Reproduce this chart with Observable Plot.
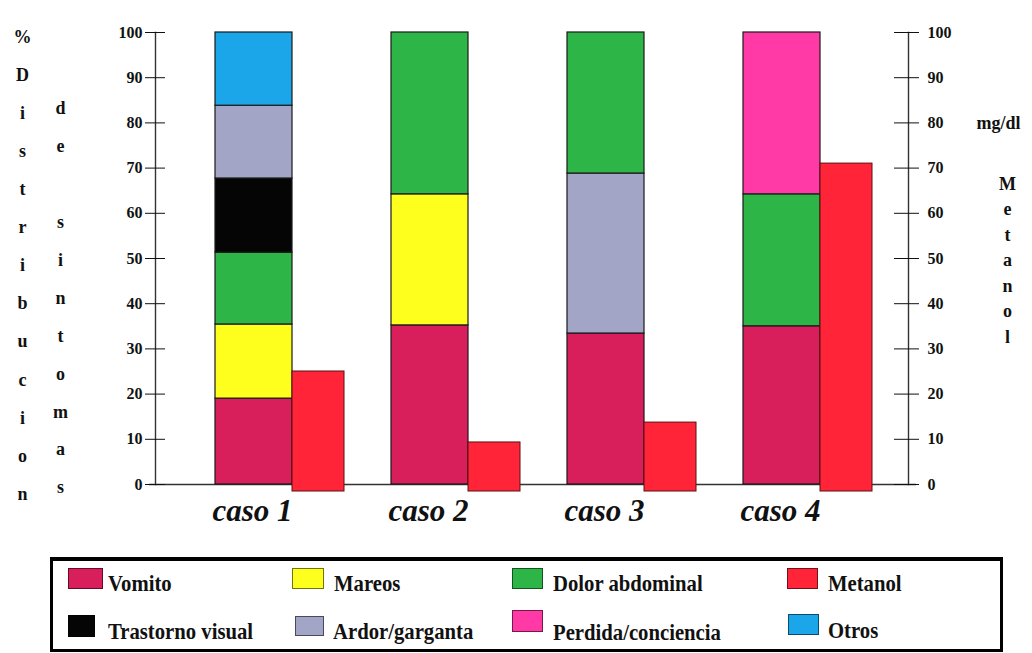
<!DOCTYPE html>
<html>
<head>
<meta charset="utf-8">
<script src="https://cdn.jsdelivr.net/npm/d3@7"></script>
<script src="https://cdn.jsdelivr.net/npm/@observablehq/plot@0.6"></script>
<style>
  html, body { margin: 0; padding: 0; background: #fff; }
  #wrap { position: relative; width: 1032px; height: 653px; font-family: "Liberation Serif", "Tinos", "DejaVu Serif", serif; font-weight: bold; }
  #chart svg { display: block; }
  #legend { position: absolute; left: 50px; top: 557px; width: 947px; height: 88px; border: 3px solid #000; border-top-width: 4px; }
  .sw { position: absolute; box-sizing: border-box; border: 1px solid rgba(0,0,0,0.55); }
  .lbl { position: absolute; font-size: 23px; line-height: 1; white-space: nowrap; color: #111; transform: scaleX(0.9); transform-origin: left center; }
</style>
</head>
<body>
<div id="wrap">
  <div id="chart"></div>
  <div id="legend"></div>
</div>
<script>
// ---- data ----
const cases = ["caso 1", "caso 2", "caso 3", "caso 4"];

const sintomasCaso1 = ["Vomito", "Mareos", "Dolor abdominal", "Trastorno visual", "Ardor/garganta", "Otros"];
const valoresCaso1 = [19.0, 16.4, 15.9, 16.4, 16.1, 16.2];

const sintomasCaso2 = ["Vomito", "Mareos", "Dolor abdominal"];
const valoresCaso2 = [35.2, 29.0, 35.8];

const sintomasCaso3 = ["Vomito", "Ardor/garganta", "Dolor abdominal"];
const valoresCaso3 = [33.4, 35.4, 31.2];

const sintomasCaso4 = ["Vomito", "Dolor abdominal", "Perdida/conciencia"];
const valoresCaso4 = [35.0, 29.2, 35.8];

const metanol = [25.0, 9.3, 13.7, 71.0];   // mg/dl

const leftTicks = [0, 10, 20, 30, 40, 50, 60, 70, 80, 90, 100];
const rightTicks = [0, 10, 20, 30, 40, 50, 60, 70, 80, 90, 100];

const seriesNames = ["Vomito", "Mareos", "Dolor abdominal", "Trastorno visual", "Ardor/garganta", "Perdida/conciencia", "Otros", "Metanol"];
const seriesColors = ["#d81e5b", "#ffff1e", "#2db548", "#050505", "#a3a5c6", "#ff3aa6", "#1ba6ea", "#ff2438"];

// ---- tables built from the arrays ----
const sintomasPorCaso = [sintomasCaso1, sintomasCaso2, sintomasCaso3, sintomasCaso4];
const valoresPorCaso = [valoresCaso1, valoresCaso2, valoresCaso3, valoresCaso4];
const stacked = [];
cases.forEach((c, i) => sintomasPorCaso[i].forEach((s, j) => stacked.push({caso: c, sintoma: s, valor: valoresPorCaso[i][j]})));
const metanolData = cases.map((c, i) => ({caso: c, metanol: metanol[i]}));

const serif = "'Liberation Serif', Tinos, 'DejaVu Serif', serif";

const chart = Plot.plot({
  width: 1032,
  height: 548,
  marginTop: 32,
  marginBottom: 64,
  marginLeft: 155,
  marginRight: 124,
  x: {type: "band", domain: cases, range: [213, 920], padding: 0, axis: null},
  y: {domain: [0, 100], axis: null},
  color: {domain: seriesNames, range: seriesColors},
  style: {fontFamily: serif, fontWeight: "bold", background: "#fff", color: "#111", overflow: "visible"},
  marks: [
    Plot.ruleY([0], {stroke: "#333", strokeWidth: 1.6, insetLeft: -6, insetRight: -8}),
    Plot.frame({anchor: "left", stroke: "#333", strokeWidth: 1.4}),
    Plot.frame({anchor: "right", stroke: "#333", strokeWidth: 1.4}),
    Plot.axisY(leftTicks, {anchor: "left", tickSize: 20, dx: 10, tickPadding: 3, fontSize: 16, fontFamily: serif, tickFormat: d => d}),
    Plot.axisY(rightTicks, {anchor: "right", tickSize: 25, dx: -15, tickPadding: 9, fontSize: 16, fontFamily: serif, tickFormat: d => d}),
    Plot.barY(stacked, Plot.stackY({x: "caso", y: "valor", fill: "sintoma", insetRight: 99, stroke: "#1a1a1a", strokeWidth: 1.2})),
    Plot.barY(metanolData, {x: "caso", y: "metanol", fill: "#ff2438", insetLeft: 77, insetRight: 47, insetBottom: -7, stroke: "#5a1010", strokeWidth: 1}),
    Plot.text(cases, {x: d => d, text: d => d, frameAnchor: "bottom", lineAnchor: "bottom", dy: 36, dx: -51, fontSize: 31, fontStyle: "italic", fontWeight: "bold", fontFamily: serif, fill: "#111"}),
    Plot.text(["%\nD\ni\ns\nt\nr\ni\nb\nu\nc\ni\no\nn"], {frameAnchor: "top-left", dx: -133, dy: -17, lineAnchor: "top", lineHeight: 2.117, fontSize: 18, fontFamily: serif, textAnchor: "middle", fill: "#111"}),
    Plot.text(["d\ne\n\u00a0\ns\ni\nn\nt\no\nm\na\ns"], {frameAnchor: "top-left", dx: -95, dy: 55, lineAnchor: "top", lineHeight: 2.105, fontSize: 18, fontFamily: serif, textAnchor: "middle", fill: "#111"}),
    Plot.text(["mg/dl"], {frameAnchor: "top-right", dx: 90, dy: 91, lineAnchor: "middle", fontSize: 18, fontFamily: serif, textAnchor: "middle", fill: "#111"}),
    Plot.text(["M\ne\nt\na\nn\no\nl"], {frameAnchor: "top-right", dx: 99, dy: 139, lineAnchor: "top", lineHeight: 1.42, fontSize: 18, fontFamily: serif, textAnchor: "middle", fill: "#111"})
  ]
});
document.getElementById("chart").appendChild(chart);

// ---- legend (HTML) ----
const legendLayout = [
  ["Vomito", 68, 568, 35, 21, 108, 584],
  ["Mareos", 292, 568, 32, 21, 334, 584],
  ["Dolor abdominal", 512, 568, 31, 21, 553, 584],
  ["Metanol", 787, 568, 31, 21, 828, 584],
  ["Trastorno visual", 68, 615, 27, 22, 108, 632],
  ["Ardor/garganta", 295, 616, 29, 20, 333, 632],
  ["Perdida/conciencia", 512, 610, 31, 22, 553, 633],
  ["Otros", 788, 614, 31, 21, 828, 631]
];
const legend = document.getElementById("legend");
const ox = 53, oy = 561;
legendLayout.forEach(([name, sx, sy, sw, sh, lx, ly]) => {
  const s = document.createElement("div");
  s.className = "sw";
  s.style.left = (sx - ox) + "px"; s.style.top = (sy - oy) + "px";
  s.style.width = sw + "px"; s.style.height = sh + "px";
  s.style.background = seriesColors[seriesNames.indexOf(name)];
  legend.appendChild(s);
  const t = document.createElement("div");
  t.className = "lbl";
  t.textContent = name;
  t.style.left = (lx - ox) + "px"; t.style.top = (ly - oy - 12) + "px";
  legend.appendChild(t);
});
</script>
</body>
</html>
